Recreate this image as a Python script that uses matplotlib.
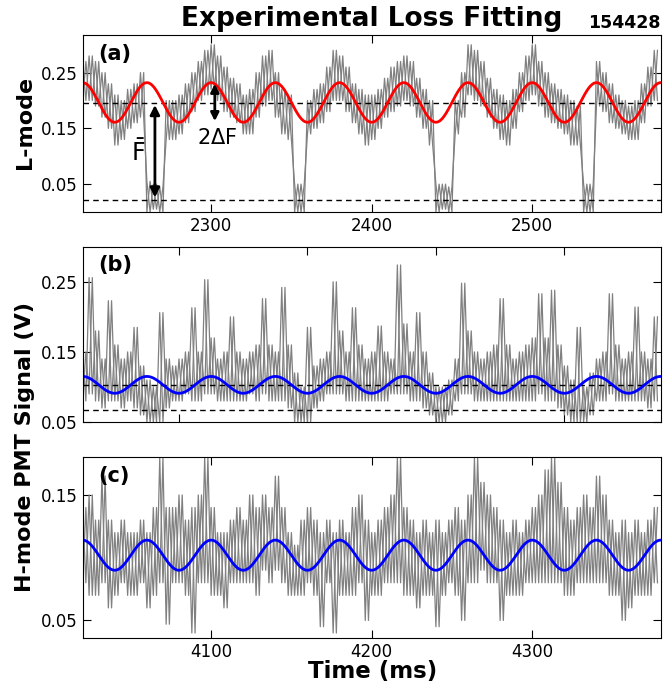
import numpy as np
import matplotlib
matplotlib.use("Agg")
import matplotlib.pyplot as plt

# ---- data (4 ms bins, upper / lower edge of the trace) ----
t0_a, t0_b, t0_c = 2220, 3120, 4020
bin_ms = 4

hi_a = [.27, .28, .27, .25, .23, .21, .20, .22, .23, .25,
        .055, .05, .045, .20, .20, .21, .23, .25, .27, .29,
        .30, .28, .26, .24, .23, .21, .22, .25, .28, .29,
        .25, .22, .21, .05, .05, .20, .22, .23, .26, .29,
        .28, .26, .23, .22, .21, .21, .22, .24, .26, .27,
        .28, .27, .24, .22, .20, .05, .05, .045, .20, .25,
        .30, .29, .27, .24, .22, .21, .20, .22, .25, .28,
        .30, .27, .25, .23, .22, .21, .20, .19, .05, .05,
        .27, .25, .23, .21, .20, .19, .20, .23, .26, .29]
lo_a = [.20, .20, .19, .17, .15, .12, .13, .15, .16, .17,
        .00, .005, .00, .13, .13, .14, .16, .18, .20, .21,
        .22, .20, .18, .17, .16, .14, .14, .17, .19, .20,
        .17, .14, .13, .00, .00, .14, .15, .16, .18, .20,
        .20, .18, .16, .14, .12, .13, .15, .17, .18, .19,
        .20, .19, .17, .15, .12, .00, .005, .00, .14, .17,
        .21, .20, .19, .17, .15, .13, .12, .15, .18, .20,
        .21, .19, .17, .16, .15, .14, .12, .12, .00, .00,
        .19, .18, .16, .15, .14, .13, .13, .16, .19, .20]

hi_b = [.15, .256, .18, .14, .223, .16, .14, .15, .185, .13,
        .11, .10, .206, .14, .13, .14, .15, .213, .15, .253,
        .17, .14, .15, .20, .15, .14, .15, .16, .226, .16,
        .15, .242, .16, .12, .10, .185, .13, .14, .15, .25,
        .18, .15, .213, .16, .14, .15, .187, .15, .14, .274,
        .19, .15, .206, .15, .12, .10, .10, .11, .14, .248,
        .18, .15, .14, .15, .16, .226, .16, .14, .15, .16,
        .17, .233, .17, .238, .16, .13, .11, .185, .10, .12,
        .14, .15, .233, .16, .14, .15, .214, .15, .14, .20]
lo_b = [.08, .09, .08, .07, .08, .08, .07, .08, .07, .06,
        .05, .05, .05, .07, .08, .08, .09, .08, .08, .09,
        .09, .08, .08, .08, .08, .08, .09, .08, .09, .08,
        .08, .08, .07, .05, .05, .05, .07, .08, .09, .09,
        .09, .08, .08, .08, .08, .08, .08, .08, .09, .09,
        .09, .08, .08, .07, .06, .05, .05, .06, .08, .09,
        .09, .08, .08, .08, .08, .08, .08, .08, .08, .08,
        .08, .09, .08, .08, .07, .06, .05, .05, .05, .06,
        .08, .08, .09, .08, .08, .08, .08, .08, .07, .08]

hi_c = [.14, .15, .13, .165, .13, .12, .13, .12, .12, .13,
        .12, .14, .18, .14, .14, .15, .13, .14, .15, .18,
        .14, .12, .12, .13, .14, .13, .15, .14, .15, .14,
        .165, .14, .12, .11, .13, .14, .13, .12, .13, .12,
        .13, .12, .14, .15, .13, .12, .13, .14, .15, .18,
        .14, .13, .12, .13, .12, .13, .12, .13, .14, .13,
        .15, .18, .16, .15, .14, .13, .12, .13, .12, .13,
        .14, .15, .17, .18, .16, .14, .13, .14, .15, .14,
        .165, .15, .13, .12, .13, .12, .13, .12, .13, .14]
lo_c = [.08, .07, .07, .08, .06, .07, .08, .07, .07, .08,
        .06, .07, .08, .047, .08, .08, .07, .04, .08, .08,
        .07, .07, .06, .08, .08, .08, .08, .07, .09, .08,
        .09, .08, .07, .07, .07, .08, .07, .045, .08, .04,
        .07, .07, .07, .08, .05, .07, .07, .08, .08, .08,
        .07, .07, .06, .07, .07, .045, .07, .08, .07, .05,
        .08, .08, .09, .08, .08, .05, .07, .07, .07, .08,
        .08, .08, .08, .08, .08, .07, .07, .08, .08, .08,
        .08, .08, .07, .07, .05, .06, .07, .07, .07, .08]

# fitted sinusoids: mean, half amplitude, period (ms), time of a maximum
fit_a = dict(mean=0.1965, amp=0.0355, period=40.0, t_peak=2220.0)
fit_b = dict(mean=0.103, amp=0.012, period=40.0, t_peak=3120.0)
fit_c = dict(mean=0.102, amp=0.012, period=40.0, t_peak=4020.0)

# dashed reference levels
dash_a = [0.196, 0.021]
dash_b = [0.103, 0.0667]

span_ms = 360


def zigzag(t0, first, second):
    # one trace alternating between the two edges, half a bin apart
    t = t0 + bin_ms * np.arange(len(first))
    tz = np.column_stack([t, t + bin_ms / 2]).ravel()
    vz = np.column_stack([first, second]).ravel()
    return tz, vz


def fit_curve(t0, p):
    t = np.linspace(t0, t0 + span_ms, 1500)
    return t, p["mean"] + p["amp"] * np.cos(2 * np.pi * (t - p["t_peak"]) / p["period"])


fig = plt.figure(figsize=(6.64, 6.89), dpi=100)
left, width = 0.1245, 0.8705
ax_a = fig.add_axes([left, 0.6923, width, 0.2565])
ax_b = fig.add_axes([left, 0.3875, width, 0.2544])
ax_c = fig.add_axes([left, 0.0740, width, 0.2623])

panels = [
    (ax_a, t0_a, hi_a, lo_a, fit_a, "red", dash_a, (0.0, 0.317), "(a)"),
    (ax_b, t0_b, hi_b, lo_b, fit_b, "blue", dash_b, (0.05, 0.30), "(b)"),
    (ax_c, t0_c, hi_c, lo_c, fit_c, "blue", [], (0.036, 0.18), "(c)"),
]

for ax, t0, hi, lo, fit, fc, dashes, ylim, tag in panels:
    # two interleaved passes make the dense noisy look of the raw signal
    tz, vz = zigzag(t0, hi, lo)
    ax.plot(tz, vz, color="gray", lw=0.9)
    tz, vz = zigzag(t0, lo, hi)
    ax.plot(tz, vz, color="gray", lw=0.9)
    for d in dashes:
        ax.axhline(d, color="black", ls="--", lw=1.0, dashes=(4, 3))
    tf, vf = fit_curve(t0, fit)
    ax.plot(tf, vf, color=fc, lw=2)
    ax.set_xlim(t0, t0 + span_ms)
    ax.set_ylim(*ylim)
    ax.tick_params(direction="in", top=True, right=True, length=6, labelsize=12)
    ax.text(0.027, 0.895, tag, transform=ax.transAxes, fontsize=15,
            fontweight="bold", ha="left", va="center")

ax_a.set_yticks([0.05, 0.15, 0.25])
ax_b.set_yticks([0.05, 0.15, 0.25])
ax_c.set_yticks([0.05, 0.15])
ax_a.set_xticks([2300, 2400, 2500])
ax_b.set_xticks([t0_b + 60, t0_b + 140, t0_b + 220, t0_b + 300])
ax_b.tick_params(labelbottom=False)
ax_c.set_xticks([4100, 4200, 4300])

# annotation arrows in panel (a)
ax_a.annotate("", xy=(2265, 0.026), xytext=(2265, 0.192),
              arrowprops=dict(arrowstyle="<|-|>", color="black", lw=2,
                              mutation_scale=14, shrinkA=0, shrinkB=0))
ax_a.text(2254.5, 0.107, r"$\bar{\mathrm{F}}$", fontsize=17, ha="center", va="center")
ax_a.annotate("", xy=(2302.3, 0.163), xytext=(2302.3, 0.230),
              arrowprops=dict(arrowstyle="<|-|>", color="black", lw=2,
                              mutation_scale=12, shrinkA=0, shrinkB=0))
ax_a.text(2303.7, 0.133, r"2$\Delta$F", fontsize=15, ha="center", va="center")

fig.text(0.5595, 0.973, "Experimental Loss Fitting", fontsize=19,
         fontweight="bold", ha="center", va="center")
fig.text(0.9955, 0.967, "154428", fontsize=12.5, fontweight="bold",
         ha="right", va="center")
fig.text(0.038, 0.823, "L-mode", fontsize=16, fontweight="bold",
         rotation=90, ha="center", va="center")
fig.text(0.038, 0.351, "H-mode PMT Signal (V)", fontsize=16, fontweight="bold",
         rotation=90, ha="center", va="center")
fig.text(0.5617, 0.0247, "Time (ms)", fontsize=16.5, fontweight="bold",
         ha="center", va="center")

fig.savefig("out.png", dpi=100)
